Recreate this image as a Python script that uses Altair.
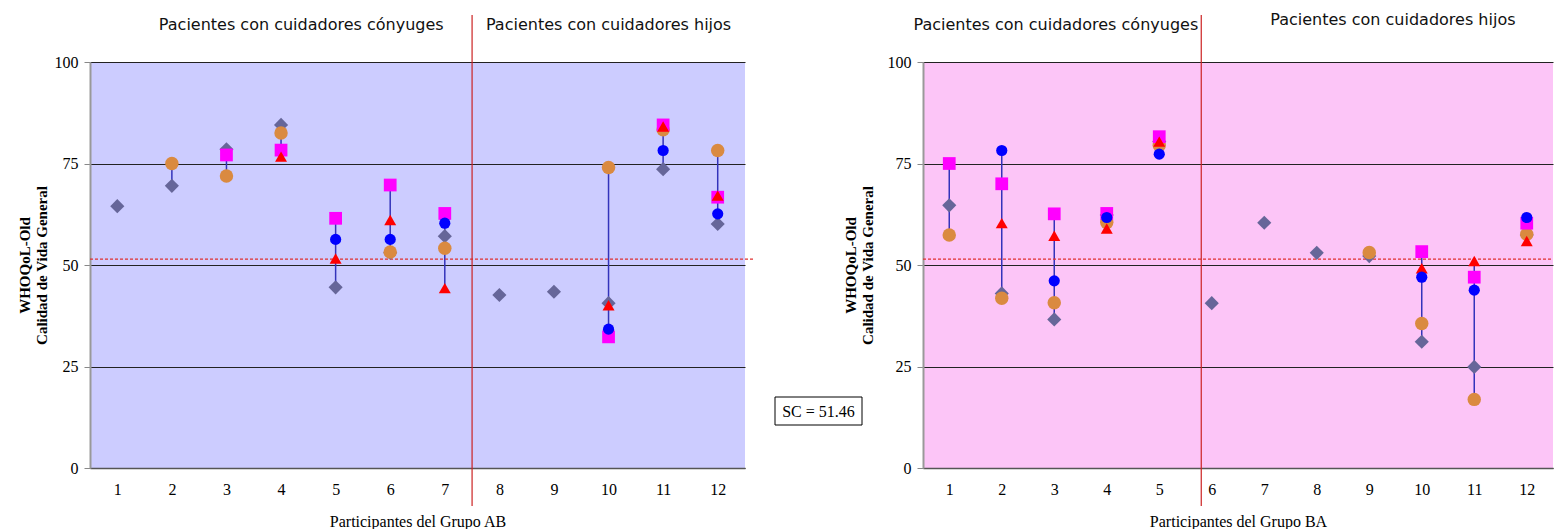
import altair as alt
import pandas as pd

# ---------------- data ----------------
participantes = list(range(1, 13))
series = ["Medida 1", "Medida 2", "Medida 3", "Medida 4", "Medida 5"]

# Grupo AB
ab_m1 = [64.5, 69.5, 78.5, 84.5, 44.5, 53.0, 57.1, 42.6, 43.4, 40.6, 73.6, 60.1]
ab_m2 = [None, 75.0, 71.9, 82.5, None, 53.2, 54.1, None, None, 74.0, 83.3, 78.2]
ab_m3 = [None, None, 77.1, 78.3, 61.5, 69.7, 62.7, None, None, 32.3, 84.5, 66.7]
ab_m4 = [None, None, None, 76.7, 51.6, 61.1, 44.3, None, None, 40.1, 84.1, 67.1]
ab_m5 = [None, None, None, None, 56.3, 56.3, 60.3, None, None, 34.2, 78.2, 62.6]

# Grupo BA
ba_m1 = [64.7, 43.0, 36.6, 62.3, 80.4, 40.6, 60.4, 53.0, 52.2, 31.1, 24.9, 57.4]
ba_m2 = [57.4, 41.8, 40.7, 60.5, 79.5, None, None, None, 53.1, 35.6, 16.9, 57.6]
ba_m3 = [75.0, 70.0, 62.6, 62.7, 81.6, None, None, None, None, 53.3, 47.0, 60.3]
ba_m4 = [None, 60.3, 57.2, 59.0, 80.4, None, None, None, None, 49.2, 51.0, 55.9]
ba_m5 = [None, 78.2, 46.1, 61.7, 77.3, None, None, None, None, 47.0, 43.8, 61.7]

sc_value = 51.46
y_ticks = [0, 25, 50, 75, 100]

shapes = ["diamond", "circle", "square", "triangle-up", "circle"]
colors = ["#666699", "#DA8A40", "#FF00FF", "#FF0000", "#0000FF"]
sizes = [200, 125, 120, 155, 125]


def long_df(cols):
    rows = []
    for s, vals in zip(series, cols):
        for p, v in zip(participantes, vals):
            if v is not None:
                rows.append({"participante": p, "serie": s, "valor": v})
    return pd.DataFrame(rows)


df_ab = long_df([ab_m1, ab_m2, ab_m3, ab_m4, ab_m5])
df_ba = long_df([ba_m1, ba_m2, ba_m3, ba_m4, ba_m5])

SERIF = "Liberation Serif"
SANS = "DejaVu Sans"


def panel(df, bg, width, height, divider, headers, xtitle, sc_ext, title_pad, extra=None):
    x_scale = alt.Scale(domain=[0.5, 12.5], nice=False, zero=False)
    y_scale = alt.Scale(domain=[0, 100], nice=False)

    x_axis = alt.Axis(values=participantes, format="d", title=xtitle, grid=False, ticks=False,
                      labelFont=SERIF, labelFontSize=16, labelColor="#000000",
                      labelPadding=13, titleFont=SERIF, titleFontSize=16,
                      titleFontWeight="normal", titleColor="#000000", titlePadding=16,
                      domainColor="#555555", domainWidth=1.5, labelAngle=0)
    y_axis = alt.Axis(values=y_ticks, title=["WHOQoL-Old", "Calidad de Vida General"],
                      grid=True, gridColor="#222222", gridWidth=1.2,
                      tickColor="#888888", tickSize=6, labelPadding=6,
                      labelFont=SERIF, labelFontSize=16, labelColor="#000000",
                      titleFont=SERIF, titleFontSize=15, titleFontWeight="bold",
                      titleColor="#000000", titlePadding=title_pad, titleLineHeight=17,
                      domainColor="#999999", domainWidth=2)

    base = alt.Chart(df)

    rng = base.mark_rule(color="#3333BB", strokeWidth=1.5).encode(
        x=alt.X("participante:Q", scale=x_scale, axis=x_axis),
        y=alt.Y("min(valor):Q", scale=y_scale, axis=y_axis),
        y2="max(valor):Q",
    )

    pts = base.mark_point(filled=True, opacity=1).encode(
        x=alt.X("participante:Q", scale=x_scale),
        y=alt.Y("valor:Q", scale=y_scale),
        shape=alt.Shape("serie:N", scale=alt.Scale(domain=series, range=shapes), legend=None),
        color=alt.Color("serie:N", scale=alt.Scale(domain=series, range=colors), legend=None),
        size=alt.Size("serie:N", scale=alt.Scale(domain=series, range=sizes), legend=None),
    )

    sc_line = alt.Chart(pd.DataFrame({"sc": [sc_value]})).mark_rule(
        color="#E03030", strokeDash=[3, 2], strokeWidth=1.2
    ).encode(
        y=alt.Y("sc:Q", scale=y_scale),
        x=alt.value(0),
        x2=alt.value(width + sc_ext),
    )

    div = alt.Chart(pd.DataFrame({"d": [divider]})).mark_rule(
        color="#CC2222", strokeWidth=1.2
    ).encode(
        x=alt.X("d:Q", scale=x_scale),
        y=alt.value(-47),
        y2=alt.value(height + 38),
    )

    hdf = pd.DataFrame(headers)
    hdr = alt.Chart(hdf).mark_text(font=SANS, fontSize=16, color="#111111",
                                   align="center", baseline="middle").encode(
        x=alt.X("x:Q", scale=x_scale),
        y=alt.Y("y:Q", scale=None),
        text="t:N",
    )

    layers = [rng, sc_line, pts, div, hdr]
    if extra is not None:
        layers += extra
    return alt.layer(*layers).properties(
        width=width, height=height,
        view=alt.ViewConfig(fill=bg, stroke=None),
    )


W1, W2, H = 655, 630, 406

sc_box = alt.Chart(pd.DataFrame({"t": ["SC = 51.46"]})).mark_rect(
    fill="white", stroke="#000000", strokeWidth=1
).encode(x=alt.value(685), x2=alt.value(772), y=alt.value(335), y2=alt.value(363))
sc_txt = alt.Chart(pd.DataFrame({"t": ["SC = 51.46"]})).mark_text(
    font=SERIF, fontSize=16, color="#000000", align="center", baseline="middle"
).encode(x=alt.value(728.5), y=alt.value(350), text="t:N")

left = panel(
    df_ab, "#CCCCFF", W1, H, 7.5,
    {"x": [4.37, 10.0], "y": [-37, -37],
     "t": ["Pacientes con cuidadores cónyuges", "Pacientes con cuidadores hijos"]},
    "Participantes del Grupo AB", 10, 5, extra=[sc_box, sc_txt],
)
right = panel(
    df_ba, "#FCC5F7", W2, H, 5.8,
    {"x": [3.03, 9.45], "y": [-37, -42],
     "t": ["Pacientes con cuidadores cónyuges", "Pacientes con cuidadores hijos"]},
    "Participantes del Grupo BA", 0, 12,
)

chart = alt.hconcat(left, right, spacing=178, bounds="flush").properties(
    padding={"left": 17, "top": 12, "right": 0, "bottom": 0},
    background="white",
).configure_view(stroke=None)

chart.save("out.html", embed_options={"renderer": "svg", "actions": False})
